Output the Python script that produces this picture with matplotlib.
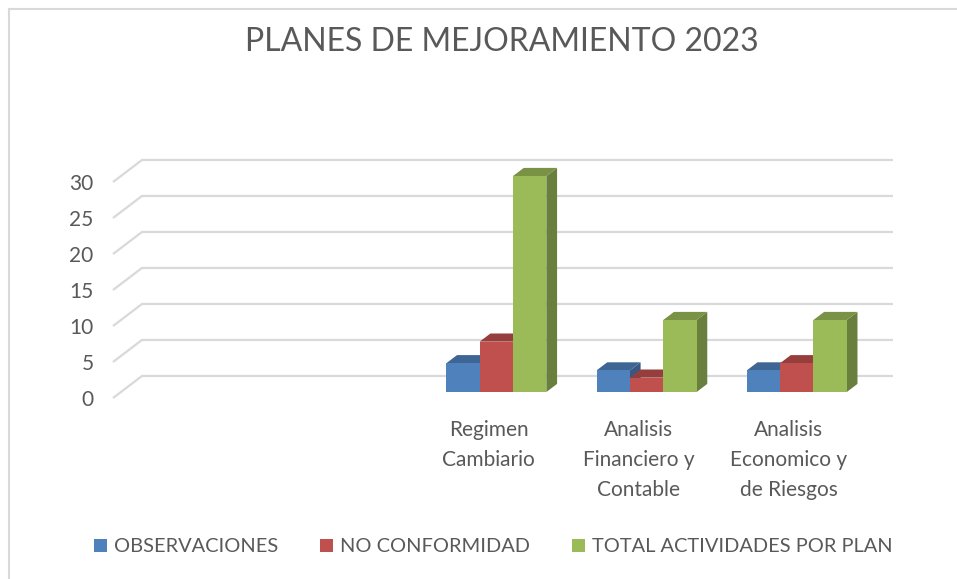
import numpy as np
import matplotlib
matplotlib.use('Agg')
import matplotlib.pyplot as plt
from matplotlib.patches import Polygon, Patch
from matplotlib.lines import Line2D
from matplotlib.colors import to_rgb

plt.rcParams['font.family'] = ['Lato', 'DejaVu Sans']

# datos (las dos primeras categorias estan vacias en el original)
categorias = ['', '', 'Regimen\nCambiario', 'Analisis\nFinanciero y\nContable',
              'Analisis\nEconomico y\nde Riesgos']
series = ['OBSERVACIONES', 'NO CONFORMIDAD', 'TOTAL ACTIVIDADES POR PLAN']
observaciones = [np.nan, np.nan, 4, 3, 3]
no_conformidad = [np.nan, np.nan, 7, 2, 4]
total_actividades = [np.nan, np.nan, 30, 10, 10]
yticks = [0, 5, 10, 15, 20, 25, 30]

colores = ['#4F81BD', '#C0504D', '#9BBB59']
gris_texto = '#595959'
gris_linea = '#D9D9D9'

# profundidad 3D (en unidades de datos)
DX = 0.193
DY = 3.06
f0, f1 = 0.27, 0.64
ancho = 0.222


def oscurecer(c, k):
    r, g, b = to_rgb(c)
    return (r * k, g * k, b * k)


fig = plt.figure(figsize=(9.57, 5.79), dpi=100)
ax = fig.add_axes([113 / 957, 1 - 398 / 579, 751 / 957, 216 / 579])
ax.set_xlim(-0.5, len(categorias) - 0.5)
ax.set_ylim(0, 30)
for s in ax.spines.values():
    s.set_visible(False)

# lineas de division (pared del fondo + diagonal)
x0, x1 = -0.5, len(categorias) - 0.5
for v in yticks:
    ax.plot([x0, x0 + DX, x1 + DX], [v, v + DY, v + DY], color=gris_linea,
            lw=1.6, zorder=1, clip_on=False, solid_capstyle='butt')

# barras 3D
datos = [observaciones, no_conformidad, total_actividades]
xs = np.arange(len(categorias))
for i in xs:
    for j, (vals, col) in enumerate(zip(datos, colores)):
        v = vals[i]
        if np.isnan(v):
            continue
        cx = i + f0 * DX + (j - 1) * ancho
        izq, der = cx - ancho / 2, cx + ancho / 2
        base = f0 * DY
        top = v + base
        ddx = (f1 - f0) * DX
        ddy = (f1 - f0) * DY
        z = 3 + i * 10 + j
        lado = Polygon([(der, base), (der + ddx, base + ddy), (der + ddx, top + ddy), (der, top)],
                       closed=True, facecolor=oscurecer(col, 0.68), edgecolor='none',
                       zorder=z, clip_on=False)
        tapa = Polygon([(izq, top), (der, top), (der + ddx, top + ddy), (izq + ddx, top + ddy)],
                       closed=True, facecolor=oscurecer(col, 0.78), edgecolor='none',
                       zorder=z, clip_on=False)
        ax.add_patch(lado)
        ax.add_patch(tapa)
        b = ax.bar(cx, v, ancho, bottom=base, color=col, zorder=z + 0.5)
        for r in b:
            r.set_clip_on(False)

ax.set_yticks(yticks)
ax.set_yticklabels([str(t) for t in yticks])
ax.set_xticks(xs)
ax.set_xticklabels(categorias, linespacing=1.62)
ax.tick_params(axis='y', length=0, pad=14, labelsize=15, labelcolor=gris_texto)
ax.tick_params(axis='x', length=0, pad=16, labelsize=15, labelcolor=gris_texto)
for t in ax.get_xticklabels():
    t.set_va('top')

fig.text(502 / 957, 1 - 51 / 579, 'PLANES DE MEJORAMIENTO 2023', ha='center', va='baseline',
         fontsize=23, color=gris_texto)

handles = [Patch(facecolor=c, edgecolor='none') for c in colores]
fig.legend(handles, series, loc='center', bbox_to_anchor=(493 / 957, 1 - 547 / 579),
           ncol=3, frameon=False, fontsize=14.4, labelcolor=gris_texto,
           handlelength=0.68, handleheight=0.68, handletextpad=0.32, columnspacing=2.1)

# borde del area del grafico
fig.add_artist(Line2D([9 / 957, 9 / 957], [0, 1 - 9 / 579], color=gris_linea, lw=1.5))
fig.add_artist(Line2D([9 / 957, 1], [1 - 9 / 579, 1 - 9 / 579], color=gris_linea, lw=1.5))

fig.savefig('out.png', dpi=100)
